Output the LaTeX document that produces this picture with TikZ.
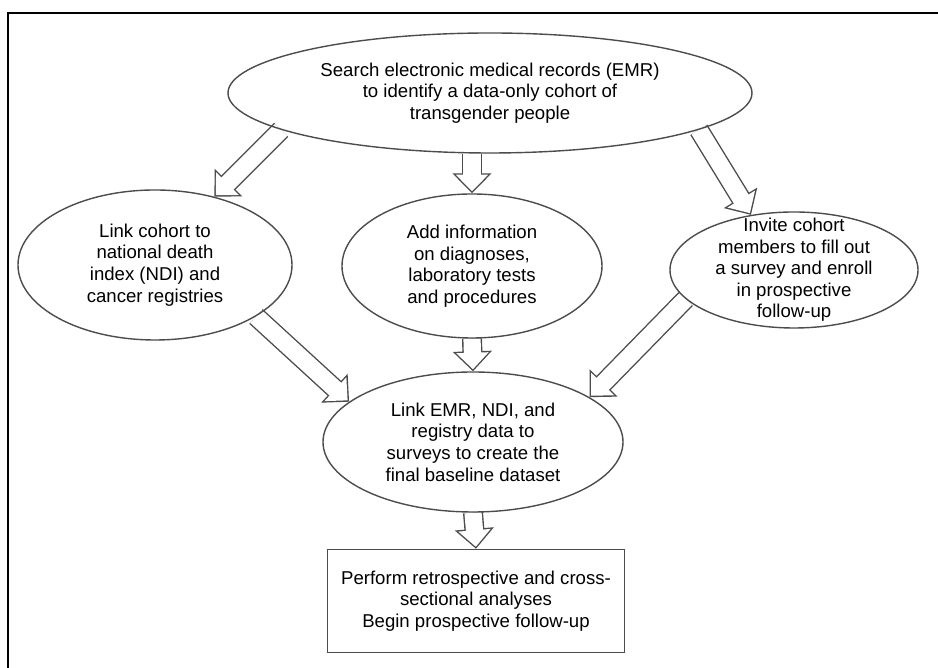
\documentclass[tikz,border=0pt]{standalone}
\usepackage{fontspec}
\setmainfont{Liberation Sans}
\usetikzlibrary{shapes.geometric, arrows.meta, backgrounds}

\begin{document}
\begin{tikzpicture}[x=0.5pt, y=0.5pt,
        oval/.style = {draw=gray!60!black, line width=0.7pt, ellipse, inner sep=0pt, align=center, font=\fontsize{9.3}{10.8}\selectfont},
        block/.style = {draw=gray!60!black, line width=0.7pt, rectangle, align=center, font=\fontsize{9.3}{10.8}\selectfont},
        flow/.style = {white, line width=8.6pt, shorten >=1pt, -{Triangle[length=8.3pt, width=15.7pt]},
            preaction={draw=gray!60!black, line width=10pt, shorten >=0pt, -{Triangle[length=10pt, width=19pt]}}}]
    \useasboundingbox (0,0) rectangle (938,668);
    \draw[line width=1.3pt] (938,655) -- (8,655) -- (8,0);
    \node[oval, minimum width=262pt, minimum height=60pt] (emr) at (490,575) {Search electronic medical records (EMR)\\to identify a data-only cohort of\\transgender people};
    \node[oval, minimum width=137pt, minimum height=75pt] (ndi) at (155,403) {Link cohort to\\national death\\index (NDI) and\\cancer registries};
    \node[oval, minimum width=130pt, minimum height=72pt] (diag) at (472,402) {Add information\\on diagnoses,\\laboratory tests\\and procedures};
    \node[oval, minimum width=124pt, minimum height=58pt, inner sep=-6pt] (survey) at (794,398) {Invite cohort\\members to fill out\\a survey and enroll\\in prospective\\follow-up};
    \node[oval, minimum width=150pt, minimum height=70pt] (link) at (473,226) {Link EMR, NDI, and\\registry data to\\surveys to create the\\final baseline dataset};
    \node[block, minimum width=148.5pt, minimum height=51.5pt] (analyses) at (476,67) {Perform retrospective and cross-\\sectional analyses\\Begin prospective follow-up};
    \begin{scope}[on background layer]
        \draw[flow] (emr.190) -- (ndi.49);
        \draw[flow] (diag.north |- emr.south) -- (diag.north);
        \draw[flow] (emr.350) -- (survey.128);
        \draw[flow] (ndi.333) -- (link.162);
        \draw[flow] (diag.south) -- (link.north);
        \draw[flow] (survey.195) -- (link.21);
        \draw[flow] (link.south) -- (analyses.north);
    \end{scope}
\end{tikzpicture}
\end{document}
